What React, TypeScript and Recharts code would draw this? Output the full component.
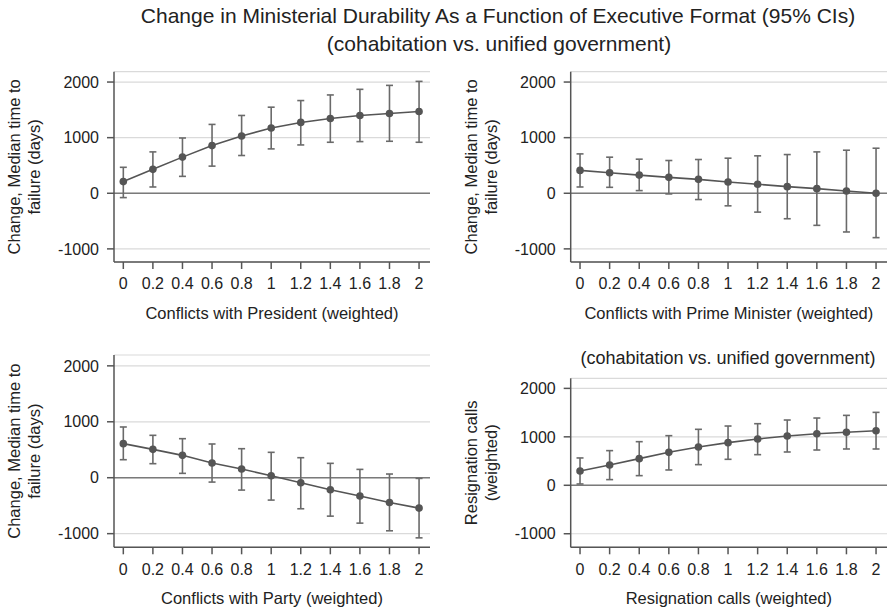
import React from "react";
import {
  ComposedChart,
  Line,
  ErrorBar,
  XAxis,
  YAxis,
  CartesianGrid,
  ReferenceLine,
} from "recharts";

// x values (weighted counts) shared by all four panels
const levels = [0, 0.2, 0.4, 0.6, 0.8, 1, 1.2, 1.4, 1.6, 1.8, 2];
const yTicks = [-1000, 0, 1000, 2000];

// Conflicts with President
const presEst = [210, 430, 650, 857, 1030, 1173, 1274, 1345, 1399, 1435, 1470];
const presLow = [-78, 113, 304, 488, 679, 798, 869, 917, 929, 935, 917];
const presHigh = [467, 744, 994, 1238, 1399, 1548, 1667, 1768, 1869, 1940, 2012];

// Conflicts with Prime Minister
const pmEst = [411, 369, 327, 286, 250, 202, 161, 119, 83, 42, 0];
const pmLow = [113, 107, 48, -12, -113, -226, -339, -458, -577, -696, -798];
const pmHigh = [708, 649, 613, 589, 607, 631, 673, 696, 744, 774, 810];

// Conflicts with Party
const partyEst = [609, 507, 400, 263, 155, 36, -90, -215, -328, -442, -543];
const partyLow = [322, 251, 78, -78, -221, -400, -555, -687, -812, -949, -1075];
const partyHigh = [907, 758, 698, 603, 519, 454, 358, 257, 149, 66, -12];

// Resignation calls
const resigEst = [296, 419, 550, 680, 790, 880, 955, 1017, 1065, 1093, 1127];
const resigLow = [27, 117, 199, 316, 426, 536, 632, 687, 728, 749, 749];
const resigHigh = [564, 715, 900, 1024, 1155, 1223, 1271, 1347, 1388, 1443, 1505];

const FONT = '"Liberation Sans", Arial, Helvetica, sans-serif';
const INK = "#555555";

type Row = { x: number; est: number; err: [number, number] };

function makeRows(est: number[], low: number[], high: number[]): Row[] {
  return levels.map((x, i) => ({
    x,
    est: est[i],
    err: [est[i] - low[i], high[i] - est[i]],
  }));
}

type PanelProps = {
  left: number;
  top: number;
  width: number;
  height: number;
  margin: { top: number; right: number; bottom: number; left: number };
  yDomain: [number, number];
  rows: Row[];
  xTitle: string;
  yTitle: string[];
};

function Panel({ left, top, width, height, margin, yDomain, rows, xTitle, yTitle }: PanelProps) {
  const xLabel = (props: any) => {
    const vb = props.viewBox;
    return (
      <text
        x={vb.x + vb.width / 2}
        y={vb.y + 57}
        textAnchor="middle"
        fontSize={16.5}
        fontFamily={FONT}
        fill="#222"
      >
        {xTitle}
      </text>
    );
  };

  const yLabel = (props: any) => {
    const vb = props.viewBox;
    const axisX = vb.x + vb.width;
    const cy = vb.y + vb.height / 2;
    return (
      <g>
        {yTitle.map((line, i) => {
          const bx = axisX - 94 + i * 20;
          return (
            <text
              key={line}
              x={bx}
              y={cy}
              transform={`rotate(-90 ${bx} ${cy})`}
              textAnchor="middle"
              fontSize={16.5}
              fontFamily={FONT}
              fill="#222"
            >
              {line}
            </text>
          );
        })}
      </g>
    );
  };

  return (
    <div style={{ position: "absolute", left, top, width, height }}>
      <ComposedChart width={width} height={height} data={rows} margin={margin}>
        <CartesianGrid vertical={false} stroke="#dadada" strokeWidth={1.2} />
        <XAxis
          dataKey="x"
          type="number"
          domain={[-0.063, 2.074]}
          ticks={levels}
          interval={0}
          allowDataOverflow
          height={60}
          tickSize={7}
          tickMargin={9}
          stroke={INK}
          strokeWidth={1.5}
          tick={{ fontSize: 16, fontFamily: FONT, fill: "#222" }}
          label={{ content: xLabel }}
        />
        <YAxis
          type="number"
          domain={yDomain}
          ticks={yTicks}
          interval={0}
          allowDataOverflow
          width={64}
          tickSize={7}
          tickMargin={8}
          stroke={INK}
          strokeWidth={1.5}
          tick={{ fontSize: 16, fontFamily: FONT, fill: "#222" }}
          label={{ content: yLabel }}
        />
        <ReferenceLine y={0} stroke="#7a7a7a" strokeWidth={1.5} />
        <Line
          dataKey="est"
          stroke={INK}
          strokeWidth={1.6}
          dot={{ r: 3.8, fill: INK, stroke: INK, strokeWidth: 0 }}
          isAnimationActive={false}
        >
          <ErrorBar
            dataKey="err"
            direction="y"
            width={3.5}
            stroke="#6a6a6a"
            strokeWidth={1.6}
            isAnimationActive={false}
          />
        </Line>
      </ComposedChart>
    </div>
  );
}

export default function App() {
  const yLabelTime = ["Change, Median time to", "failure (days)"];
  return (
    <div
      style={{
        position: "absolute",
        left: 0,
        top: 0,
        width: 887,
        height: 608,
        background: "#fff",
        overflow: "hidden",
      }}
    >
      <Panel
        left={0}
        top={60}
        width={440}
        height={270}
        margin={{ top: 11.7, right: 10, bottom: 8, left: 50 }}
        yDomain={[-1236, 2186]}
        rows={makeRows(presEst, presLow, presHigh)}
        xTitle="Conflicts with President (weighted)"
        yTitle={yLabelTime}
      />
      <Panel
        left={440}
        top={60}
        width={447}
        height={270}
        margin={{ top: 11.7, right: 0, bottom: 8, left: 66.7 }}
        yDomain={[-1236, 2186]}
        rows={makeRows(pmEst, pmLow, pmHigh)}
        xTitle="Conflicts with Prime Minister (weighted)"
        yTitle={yLabelTime}
      />
      <Panel
        left={0}
        top={330}
        width={440}
        height={278}
        margin={{ top: 25, right: 10, bottom: 0.7, left: 50 }}
        yDomain={[-1244, 2194]}
        rows={makeRows(partyEst, partyLow, partyHigh)}
        xTitle="Conflicts with Party (weighted)"
        yTitle={yLabelTime}
      />
      <Panel
        left={440}
        top={330}
        width={447}
        height={278}
        margin={{ top: 48.3, right: 0, bottom: 0.7, left: 66.7 }}
        yDomain={[-1280, 2208]}
        rows={makeRows(resigEst, resigLow, resigHigh)}
        xTitle="Resignation calls (weighted)"
        yTitle={["Resignation calls", "(weighted)"]}
      />
      <svg
        width={887}
        height={608}
        style={{ position: "absolute", left: 0, top: 0, pointerEvents: "none" }}
      >
        <g fontFamily={FONT} fill="#222" textAnchor="middle">
          <text x={498} y={23} fontSize={21}>
            Change in Ministerial Durability As a Function of Executive Format (95% CIs)
          </text>
          <text x={499} y={51} fontSize={21}>
            (cohabitation vs. unified government)
          </text>
          <text x={728} y={364} fontSize={18}>
            (cohabitation vs. unified government)
          </text>
        </g>
      </svg>
    </div>
  );
}
